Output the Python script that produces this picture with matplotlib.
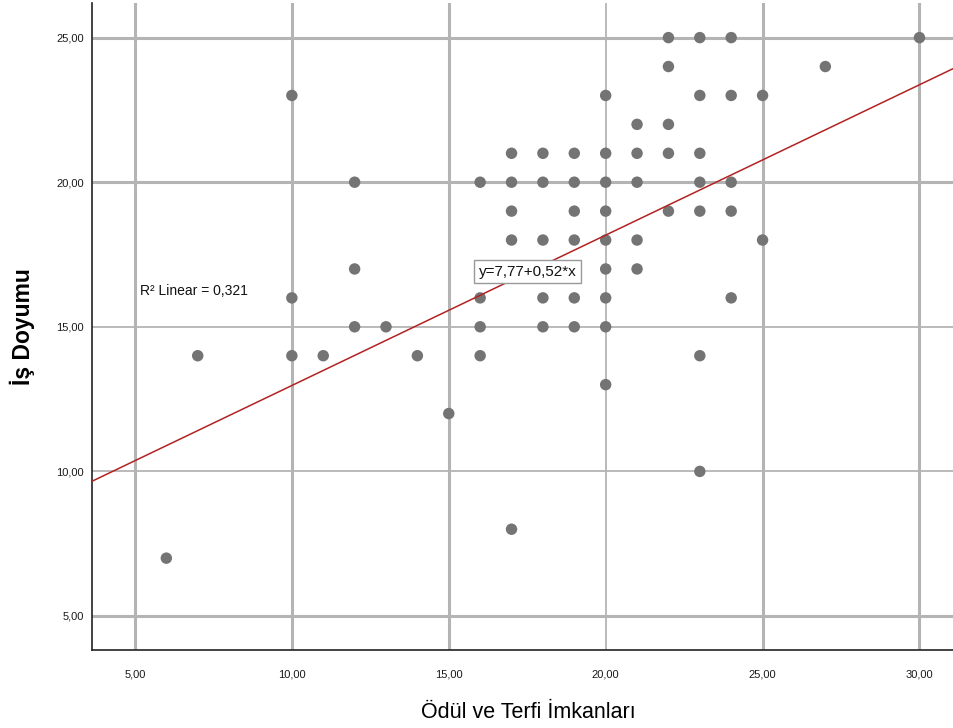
import numpy as np
import matplotlib.pyplot as plt
from matplotlib.ticker import FuncFormatter

plt.rcParams['font.family'] = ['Liberation Sans', 'DejaVu Sans']

# Ödül ve Terfi İmkanları (x) ve İş Doyumu (y) puanları
odul = [6, 7,
        10, 10, 10, 11, 12, 12, 12, 13, 14, 15,
        16, 16, 16, 16,
        17, 17, 17, 17, 17,
        18, 18, 18, 18, 18,
        19, 19, 19, 19, 19, 19,
        20, 20, 20, 20, 20, 20, 20, 20, 20,
        21, 21, 21, 21, 21,
        22, 22, 22, 22, 22,
        23, 23, 23, 23, 23, 23, 23,
        24, 24, 24, 24, 24,
        25, 25, 27, 30]
doyum = [7, 14,
         23, 16, 14, 14, 20, 17, 15, 15, 14, 12,
         20, 16, 15, 14,
         21, 20, 19, 18, 8,
         21, 20, 18, 16, 15,
         21, 20, 19, 18, 16, 15,
         23, 21, 20, 19, 18, 17, 16, 15, 13,
         22, 21, 20, 18, 17,
         25, 24, 22, 21, 19,
         25, 23, 21, 20, 19, 14, 10,
         25, 23, 20, 19, 16,
         23, 18, 24, 25]

# regresyon katsayıları ve R kare
sabit = 7.77
egim = 0.52
r_kare = 0.321

tick_x = [5, 10, 15, 20, 25, 30]
tick_y = [5, 10, 15, 20, 25]

fig = plt.figure(figsize=(9.54, 7.28), dpi=100)
ax = fig.add_axes([0.0964, 0.107, 0.9036, 0.889])

xmin, xmax = 3.63, 31.1
ymin, ymax = 3.82, 26.2
ax.set_xlim(xmin, xmax)
ax.set_ylim(ymin, ymax)

# kalın / ince ızgara çizgileri
for v in tick_x:
    ax.axvline(v, color='#b4b4b4', lw=1.3 if v == 20 else 2.2, zorder=0)
for v in tick_y:
    ax.axhline(v, color='#b4b4b4', lw=1.3 if v in (10, 15) else 2.2, zorder=0)

ax.scatter(odul, doyum, s=68, color='#747474', edgecolors='none', zorder=3)

xs = np.array([xmin, xmax])
ax.plot(xs, sabit + egim * xs, color='#b22222', lw=1.1, zorder=4)

fmt = FuncFormatter(lambda v, p: ('%.2f' % v).replace('.', ','))
ax.set_xticks(tick_x)
ax.set_yticks(tick_y)
ax.xaxis.set_major_formatter(fmt)
ax.yaxis.set_major_formatter(fmt)
ax.tick_params(length=0, labelsize=8, colors='#1a1a1a')
ax.tick_params(axis='y', pad=6)
ax.tick_params(axis='x', pad=14)

for s in ['top', 'right']:
    ax.spines[s].set_visible(False)
for s in ['left', 'bottom']:
    ax.spines[s].set_color('#222222')
    ax.spines[s].set_linewidth(1.2)

ax.set_xlabel('Ödül ve Terfi İmkanları', fontsize=15.5, va='center')
ax.xaxis.set_label_coords(0.506, -0.0958)
ax.set_ylabel('İş Doyumu', fontsize=16.5, fontweight='bold', va='center')
ax.yaxis.set_label_coords(-0.0812, 0.5)

ax.text(5.16, 16.25, 'R² Linear = %s' % ('%.3f' % r_kare).replace('.', ','),
        fontsize=10, va='center', ha='left', color='#111111')
ax.text(17.52, 16.9, 'y=%s+%s*x' % (('%.2f' % sabit).replace('.', ','),
                                     ('%.2f' % egim).replace('.', ',')),
        fontsize=11, va='center', ha='center', color='#111111', zorder=5,
        bbox=dict(boxstyle='square,pad=0.3', fc='white', ec='#999999', lw=1))

fig.savefig('out.png', dpi=100)
